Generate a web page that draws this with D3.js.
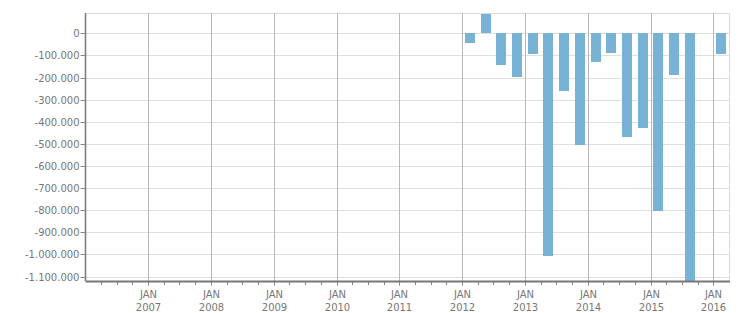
<!DOCTYPE html>
<html>
<head>
<meta charset="utf-8">
<script src="https://cdn.jsdelivr.net/npm/d3@7"></script>
<style>
body { margin: 0; background: #fff; }
svg text { font-family: 'DejaVu Sans', Verdana, sans-serif; font-size: 10px; fill: #777; }
</style>
</head>
<body>
<svg id="chart" width="751" height="313"></svg>
<script>
'use strict';

// quarterly values (start month of each quarter)
var quarters = ['2012-01', '2012-04', '2012-07', '2012-10', '2013-01', '2013-04', '2013-07', '2013-10',
	'2014-01', '2014-04', '2014-07', '2014-10', '2015-01', '2015-04', '2015-07', '2016-01'];
var values = [-42000, 87000, -142000, -198000, -92000, -1006000, -260000, -505000,
	-130000, -88000, -468000, -427000, -803000, -189000, -1150000, -92000];
var yTicks = [0, -100000, -200000, -300000, -400000, -500000, -600000, -700000, -800000, -900000, -1000000, -1100000];
var years = [2007, 2008, 2009, 2010, 2011, 2012, 2013, 2014, 2015, 2016];

var parse = d3.timeParse('%Y-%m');
var data = quarters.map(function(q, i) { return {date: parse(q), value: values[i]}; });

var pLeft = 85.5, pRight = 729, pTop = 13, pBottom = 281;

var x = d3.scaleTime()
	.domain([new Date(2006, 0, 1), new Date(2016, 3, 1)])
	.range([pLeft, pRight]);
var y = d3.scaleLinear()
	.domain([92000, -1120000])
	.range([pTop, pBottom])
	.clamp(true);

var fmt = function(v) { return d3.format(',.0f')(v).replace(/,/g, '.').replace('\u2212', '-'); };

var svg = d3.select('#chart');

// horizontal grid
svg.append('g')
	.selectAll('line')
	.data(yTicks)
	.enter().append('line')
		.attr('x1', pLeft).attr('x2', pRight)
		.attr('y1', function(d) { return Math.round(y(d)) + 0.5; })
		.attr('y2', function(d) { return Math.round(y(d)) + 0.5; })
		.attr('stroke', '#e0e0e0');

// frame top and right
svg.append('path')
	.attr('d', 'M' + pLeft + ',' + (pTop + 0.5) + 'H' + (pRight + 0.5) + 'V' + pBottom)
	.attr('fill', 'none')
	.attr('stroke', '#dcdcdc');

// year grid lines
var yearDates = years.map(function(yr) { return new Date(yr, 0, 1); });
svg.append('g')
	.selectAll('line')
	.data(yearDates)
	.enter().append('line')
		.attr('x1', function(d) { return Math.round(x(d)) + 0.5; })
		.attr('x2', function(d) { return Math.round(x(d)) + 0.5; })
		.attr('y1', pTop).attr('y2', pBottom + 5)
		.attr('stroke', '#b8b8b8');

// quarter ticks
svg.append('g')
	.selectAll('line')
	.data(d3.timeMonth.every(3).range(new Date(2006, 3, 1), new Date(2016, 3, 1)))
	.enter().append('line')
		.attr('x1', function(d) { return Math.round(x(d)) + 0.5; })
		.attr('x2', function(d) { return Math.round(x(d)) + 0.5; })
		.attr('y1', pBottom).attr('y2', pBottom + 4)
		.attr('stroke', '#888');

// bars
svg.append('g')
	.selectAll('rect')
	.data(data)
	.enter().append('rect')
		.attr('x', function(d) {
			var mid = (x(d.date) + x(d3.timeMonth.offset(d.date, 3))) / 2;
			return Math.round(mid - 5);
		})
		.attr('width', 10)
		.attr('y', function(d) { return Math.round(y(Math.max(0, d.value))); })
		.attr('height', function(d) { return Math.abs(Math.round(y(d.value)) - Math.round(y(0))); })
		.attr('fill', '#78b2d4');

// y axis
svg.append('line')
	.attr('x1', pLeft).attr('x2', pLeft)
	.attr('y1', pTop).attr('y2', pBottom)
	.attr('stroke', '#777').attr('stroke-width', 1.5);
var yt = svg.append('g')
	.selectAll('g')
	.data(yTicks)
	.enter().append('g')
		.attr('transform', function(d) { return 'translate(0,' + (Math.round(y(d)) + 0.5) + ')'; });
yt.append('line')
	.attr('x1', pLeft - 5).attr('x2', pLeft)
	.attr('stroke', '#888');
yt.append('text')
	.attr('x', pLeft - 6)
	.attr('dy', '0.35em')
	.attr('text-anchor', 'end')
	.text(fmt);

// x axis
svg.append('line')
	.attr('x1', pLeft).attr('x2', pRight + 1)
	.attr('y1', pBottom + 0.5).attr('y2', pBottom + 0.5)
	.attr('stroke', '#777').attr('stroke-width', 2);
var xt = svg.append('g')
	.selectAll('text')
	.data(yearDates)
	.enter().append('text')
		.attr('text-anchor', 'middle')
		.attr('transform', function(d) { return 'translate(' + (Math.round(x(d)) + 0.5) + ',0)'; });
xt.append('tspan').attr('x', 0).attr('y', 298).text('JAN');
xt.append('tspan').attr('x', 0).attr('y', 311).text(function(d) { return d.getFullYear(); });
</script>
</body>
</html>
